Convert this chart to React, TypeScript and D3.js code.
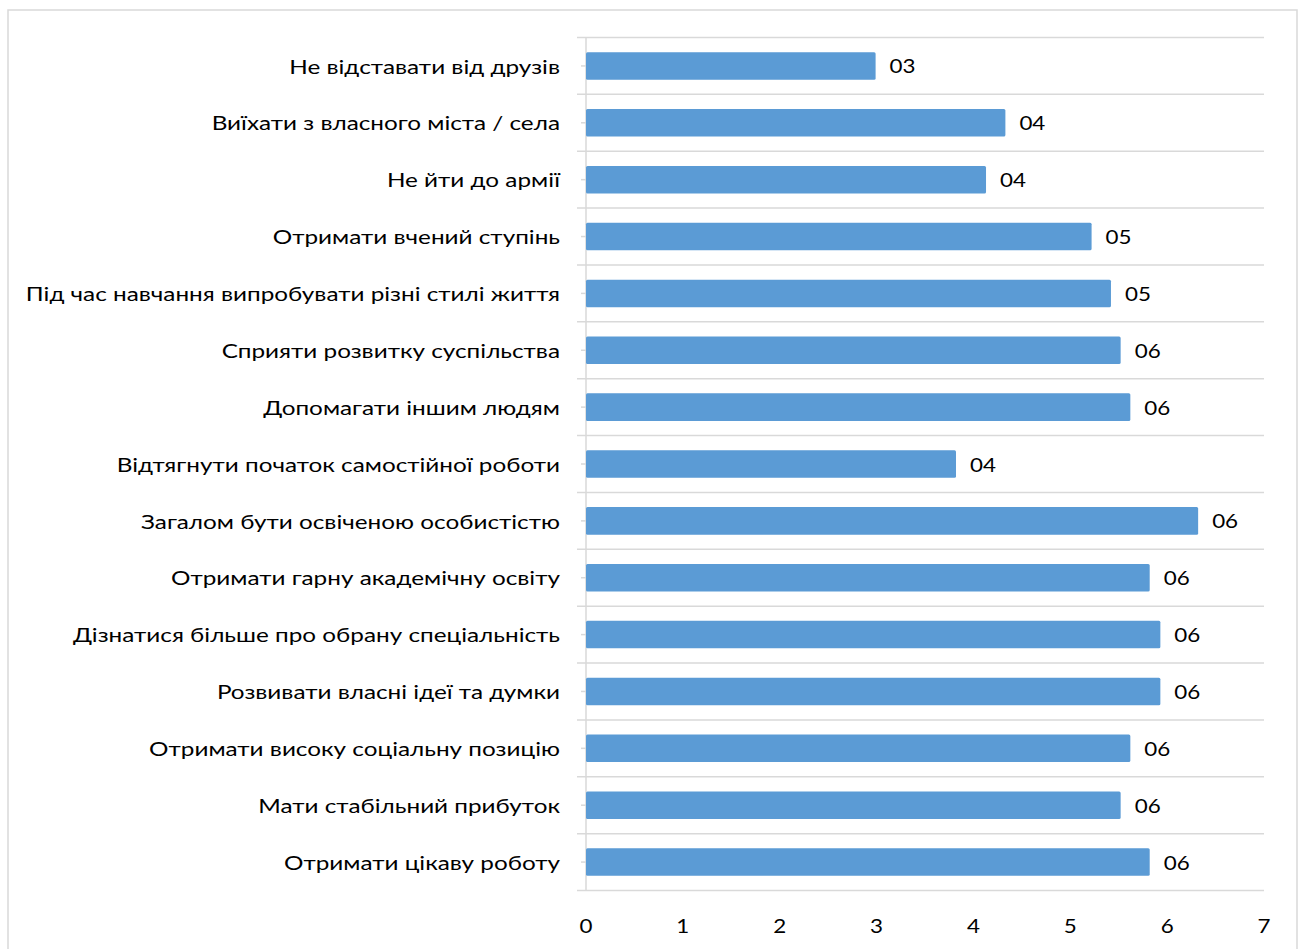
// @ts-nocheck
import * as d3 from "d3";
import React from "react";

const categories = [
  "Не відставати від друзів",
  "Виїхати з власного міста / села",
  "Не йти до армії",
  "Отримати вчений ступінь",
  "Під час навчання випробувати різні стилі життя",
  "Сприяти розвитку суспільства",
  "Допомагати іншим людям",
  "Відтягнути початок самостійної роботи",
  "Загалом бути освіченою особистістю",
  "Отримати гарну академічну освіту",
  "Дізнатися більше про обрану спеціальність",
  "Розвивати власні ідеї та думки",
  "Отримати високу соціальну позицію",
  "Мати стабільний прибуток",
  "Отримати цікаву роботу",
];

const values = [2.99, 4.33, 4.13, 5.22, 5.42, 5.52, 5.62, 3.82, 6.32, 5.82, 5.93, 5.93, 5.62, 5.52, 5.82];

const valueLabels = ["03", "04", "04", "05", "05", "06", "06", "04", "06", "06", "06", "06", "06", "06", "06"];

const xTicks = [0, 1, 2, 3, 4, 5, 6, 7];

const W = 1306;
const H = 949;
const plotLeft = 586;
const plotRight = 1264;
const plotTop = 37.5;
const plotBottom = 890.5;
const font = "Lato, 'Open Sans', sans-serif";
// the source picture is stretched sideways, so text is widened to match
const textStretch = 1.215;
const digitStretch = 1.12;

export default function App() {
  const x = d3.scaleLinear().domain([0, 7]).range([plotLeft, plotRight]);
  const y = d3
    .scaleBand()
    .domain(categories)
    .range([plotTop, plotBottom])
    .paddingInner(0.516)
    .paddingOuter(0.258);
  const step = y.step();
  const bounds = d3.range(categories.length + 1).map((i) => plotTop + i * step);
  const mid = (c) => y(c) + y.bandwidth() / 2;

  return (
    <svg
      width={W}
      height={H}
      style={{ position: "absolute", left: 0, top: 0, background: "#fff" }}
      fontFamily={font}
    >
      {/* chart frame */}
      <rect x={8} y={10} width={1289} height={960} fill="none" stroke="#d9d9d9" strokeWidth={1.5} />

      {/* horizontal gridlines at category boundaries */}
      <g stroke="#d9d9d9" strokeWidth={1.5}>
        {bounds.map((b, i) => (
          <line key={i} x1={plotLeft - 9} x2={plotRight} y1={b} y2={b} />
        ))}
        {categories.map((c) => (
          <line key={c} x1={plotLeft - 5} x2={plotLeft} y1={mid(c)} y2={mid(c)} />
        ))}
        <line x1={plotLeft} x2={plotLeft} y1={plotTop} y2={plotBottom} />
      </g>

      {/* bars */}
      <g fill="#5b9bd5">
        {categories.map((c, i) => (
          <rect
            key={c}
            x={x(0)}
            y={y(c)}
            width={x(values[i]) - x(0)}
            height={y.bandwidth()}
            rx={1.5}
          />
        ))}
      </g>

      {/* value labels */}
      <g fontSize={20} fill="#000">
        {categories.map((c, i) => (
          <text
            key={c}
            transform={`translate(${x(values[i]) + 14},${mid(c)}) scale(${digitStretch},1)`}
            dominantBaseline="central"
          >
            {valueLabels[i]}
          </text>
        ))}
      </g>

      {/* category labels */}
      <g fontSize={20} fill="#000" textAnchor="end">
        {categories.map((c) => (
          <text
            key={c}
            transform={`translate(560,${mid(c)}) scale(${textStretch},1)`}
            dominantBaseline="central"
          >
            {c}
          </text>
        ))}
      </g>

      {/* x tick labels */}
      <g fontSize={20} fill="#000" textAnchor="middle">
        {xTicks.map((t) => (
          <text
            key={t}
            transform={`translate(${x(t)},925) scale(${digitStretch},1)`}
            dominantBaseline="central"
          >
            {t}
          </text>
        ))}
      </g>
    </svg>
  );
}
